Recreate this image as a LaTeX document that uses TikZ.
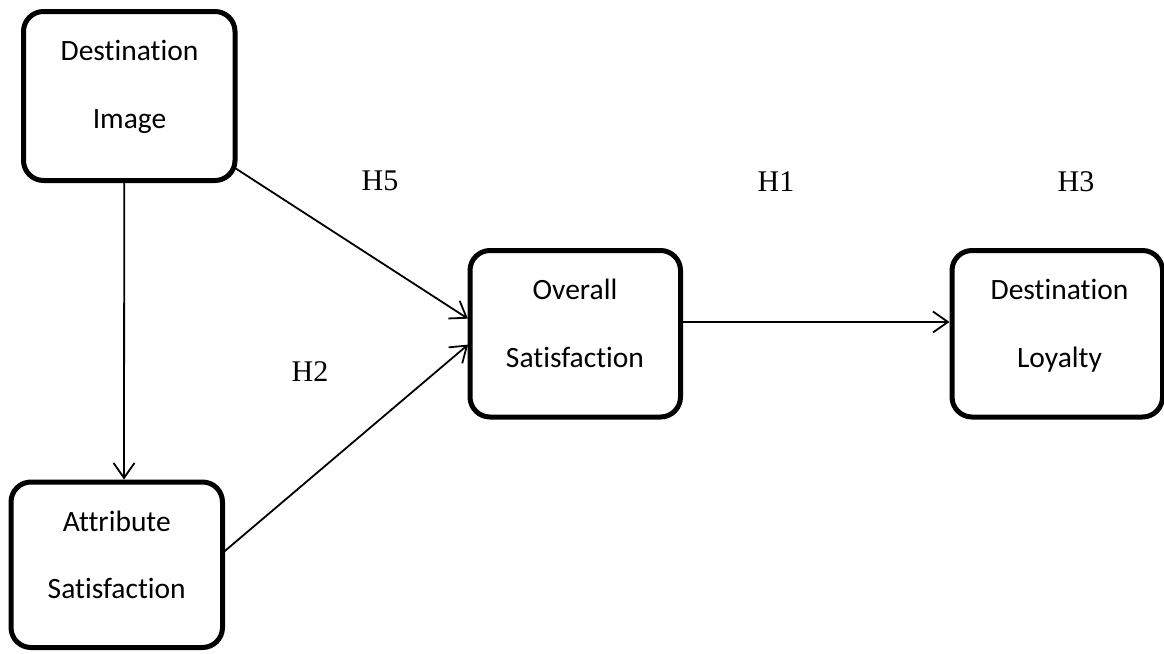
\documentclass[tikz,border=0pt]{standalone}
\usepackage{fontspec}
\setmainfont{Liberation Serif}
\newfontfamily\boxfont[Ligatures={NoCommon}]{Carlito}
\usetikzlibrary{arrows.meta}
\begin{document}
\begin{tikzpicture}[x=1pt,y=-1pt,
  boxnode/.style={draw=black,line width=5pt,rounded corners=20pt,rectangle,inner sep=0pt,outer sep=0pt,fill=white},
  txt/.style={font=\boxfont\fontsize{29.5}{34}\selectfont,inner sep=0pt,anchor=base},
  hyp/.style={font=\fontsize{30}{36}\selectfont,inner sep=0pt,anchor=base},
  conn/.style={line width=1.8pt,-{Straight Barb[length=15pt,width=21pt]},shorten >=2.5pt}]
\useasboundingbox (0,0) rectangle (1164,653);
\fill[white] (0,0) rectangle (1164,653);
% boxes
\node[boxnode,minimum width=211.5pt,minimum height=169pt] (di) at (129.25,96) {};
\node[boxnode,minimum width=211.5pt,minimum height=165.5pt] (as) at (116.75,564.75) {};
\node[boxnode,minimum width=210.5pt,minimum height=166.5pt] (os) at (575.25,333.75) {};
\node[boxnode,minimum width=210.5pt,minimum height=166.5pt] (dl) at (1057.25,333.75) {};
% box texts
\node[txt] (di1) at (129.5,60) {Destination};
\node[txt] (di2) at (129.5,128) {Image};
\node[txt] (as1) at (116.75,531) {Attribute};
\node[txt] (as2) at (116.75,598) {Satisfaction};
\node[txt] (os1) at (575,299) {Overall};
\node[txt] (os2) at (575,367) {Satisfaction};
\node[txt] (dl1) at (1059.5,299) {Destination};
\node[txt] (dl2) at (1059.5,367) {Loyalty};
% connectors
\draw[conn] ([xshift=-5pt]di.south) -- ([xshift=7.25pt]as.north);
\draw[conn] ([yshift=-72pt]di.east) -- ([yshift=13.75pt]os.west);
\draw[conn] ([yshift=11.75pt]as.east) -- ([yshift=-9.25pt]os.west);
\draw[conn] ([yshift=11.75pt]os.east) -- ([yshift=11.75pt]dl.west);
% hypothesis labels
\node[hyp] (h5) at (380,190) {H5};
\node[hyp] (h1) at (776,191) {H1};
\node[hyp] (h3) at (1076,191) {H3};
\node[hyp] (h2) at (310,381) {H2};
\end{tikzpicture}
\end{document}
